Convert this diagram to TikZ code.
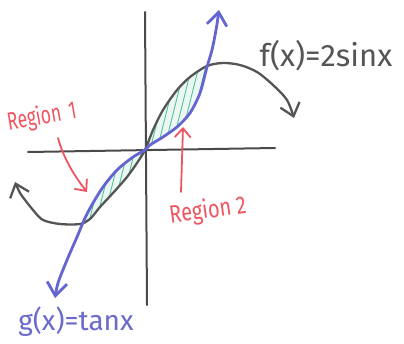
\documentclass[tikz,border=0pt]{standalone}
\usepackage{fontspec}
\usepackage{graphicx}
\setmainfont{Fira Sans}
\usetikzlibrary{arrows.meta}
\definecolor{pen}{HTML}{555555}
\definecolor{axisgray}{HTML}{4A4A4A}
\definecolor{bluepen}{HTML}{6464D2}
\definecolor{bluetext}{HTML}{6A6ACC}
\definecolor{redpen}{HTML}{EE5560}
\definecolor{hatchgreen}{HTML}{5CC09A}
\tikzset{
  axisline/.style={draw=axisgray, line width=2pt, line cap=round},
  fcurve/.style={draw=pen, line width=2.3pt, line cap=round, {Straight Barb[length=12pt,width=20pt]}-{Straight Barb[length=12pt,width=20pt]}},
  gcurve/.style={draw=bluepen, line width=2.8pt, line cap=round, {Straight Barb[length=13pt,width=20pt]}-{Straight Barb[length=13pt,width=20pt]}},
  hatchline/.style={draw=hatchgreen, line width=0.9pt},
  redarrow/.style={draw=redpen, line width=1.8pt, line cap=round, -{Straight Barb[length=9pt,width=16pt]}},
  lbl/.style={inner sep=0pt}
}
\begin{document}
\begin{tikzpicture}[x=1pt,y=-1pt]
\useasboundingbox (0,0) rectangle (404,343);

% axes
\coordinate (ytop) at (145,12);
\coordinate (ybot) at (147,305);
\coordinate (xleft) at (28,152);
\coordinate (xright) at (275,148);
\draw[axisline] (ytop) -- (ybot);
\draw[axisline] (xleft) -- (xright);

% Region 2 hatching (left of blue, below gray)
\begin{scope}
\clip (145,58) rectangle (212,152);
\clip plot[smooth] coordinates {(219,10) (216,30) (212,50) (207,67) (200,93) (190,113) (177,127) (163,137) (150,145) (145,150) (133,157) (117,170) (103,187) (93,203) (85,218) (77,237) (67,260) (58,283) (55,298)} -- (55,343) -- (0,343) -- (0,0) -- (219,0) -- cycle;
\clip plot[smooth] coordinates {(15,182) (20,193) (33,210) (43,220) (60,224) (80,224) (90,219) (100,207) (113,193) (127,177) (137,163) (145,150) (153,130) (163,110) (177,90) (190,77) (207,66) (223,63) (240,65) (257,72) (273,85) (287,100) (294,118)} -- (404,118) -- (404,343) -- (0,343) -- (0,182) -- cycle;
\fill[hatchgreen!12] (0,0) rectangle (404,343);
\foreach \i in {0,7,...,140} \draw[hatchline] (110+\i,170) -- ++(30,-120);
\end{scope}

% Region 1 hatching (right of blue, above gray)
\begin{scope}
\clip (82,148) rectangle (146,230);
\clip plot[smooth] coordinates {(219,10) (216,30) (212,50) (207,67) (200,93) (190,113) (177,127) (163,137) (150,145) (145,150) (133,157) (117,170) (103,187) (93,203) (85,218) (77,237) (67,260) (58,283) (55,298)} -- (55,343) -- (404,343) -- (404,0) -- (219,0) -- cycle;
\clip plot[smooth] coordinates {(15,182) (20,193) (33,210) (43,220) (60,224) (80,224) (90,219) (100,207) (113,193) (127,177) (137,163) (145,150) (153,130) (163,110) (177,90) (190,77) (207,66) (223,63) (240,65) (257,72) (273,85) (287,100) (294,118)} -- (404,118) -- (404,0) -- (0,0) -- (0,182) -- cycle;
\fill[hatchgreen!12] (0,0) rectangle (404,343);
\foreach \i in {0,7,...,120} \draw[hatchline] (40+\i,250) -- ++(30,-120);
\end{scope}

% f(x) = 2 sin x
\draw[fcurve] plot[smooth] coordinates {(15,182) (20,193) (33,210) (43,220) (60,224) (80,224) (90,219) (100,207) (113,193) (127,177) (137,163) (145,150) (153,130) (163,110) (177,90) (190,77) (207,66) (223,63) (240,65) (257,72) (273,85) (287,100) (294,118)};

% g(x) = tan x
\draw[gcurve] plot[smooth] coordinates {(219,10) (216,30) (212,50) (207,67) (200,93) (190,113) (177,127) (163,137) (150,145) (145,150) (133,157) (117,170) (103,187) (93,203) (85,218) (77,237) (67,260) (58,283) (55,298)};

% labels
\node[lbl, text=pen, font=\fontsize{31}{33}\selectfont] (flab) at (326,56) {f(x)=2sinx};
\node[lbl, text=bluetext, font=\fontsize{28}{30}\selectfont] (glab) at (76,322) {g(x)=tanx};
\node[lbl, text=redpen, font=\fontsize{25}{27}\selectfont, rotate=10] (r1) at (42,117) {\scalebox{0.7}[1]{Region\hspace{0.45em}1}};
\node[lbl, text=redpen, font=\fontsize{25}{27}\selectfont, rotate=8] (r2) at (208,211) {\scalebox{0.8}[1]{Region 2}};

% red arrows
\coordinate (r1tip) at (87,192);
\coordinate (r2tip) at (183,127);
\coordinate (r1start) at (58,138);
\coordinate (r2start) at (181,192);
\draw[redarrow] (r1start) .. controls (64,160) and (76,178) .. (r1tip);
\draw[redarrow] (r2start) -- (r2tip);
\end{tikzpicture}
\end{document}
